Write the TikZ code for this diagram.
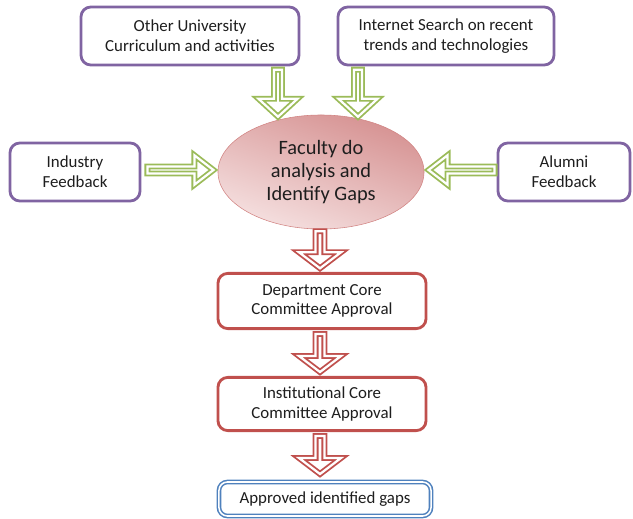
\documentclass[tikz,border=0pt]{standalone}
\usepackage{fontspec}
\setmainfont{Carlito}
\usetikzlibrary{shapes.geometric}
\usetikzlibrary{positioning}
\usetikzlibrary{calc}
\definecolor{mpurple}{RGB}{128,100,162}
\definecolor{mgreen}{RGB}{155,187,89}
\definecolor{mred}{RGB}{192,80,77}
\definecolor{mblue}{RGB}{79,129,189}
\definecolor{mpink}{RGB}{214,146,146}
\definecolor{mlightpink}{RGB}{245,224,224}
\definecolor{mtext}{RGB}{30,30,30}

\tikzset{
  srcbox/.style={draw=mpurple, line width=2pt, rounded corners=7pt, fill=white,
    align=center, text=mtext, font=\fontsize{12}{14}\selectfont},
  stepbox/.style={draw=mred, line width=2pt, rounded corners=7pt, fill=white,
    align=center, text=mtext, font=\fontsize{12}{14}\selectfont,
    minimum width=5.2cm},
  gapbox/.style={draw=mblue, double=white, double distance=1.1pt, line width=1.1pt,
    rounded corners=6pt, fill=white, align=center, text=mtext,
    font=\fontsize{12}{14}\selectfont},
  hollowarrow/.style={fill=white, double=white, double distance=1.6pt, line width=1.3pt},
  greenarrow/.style={hollowarrow, draw=mgreen},
  redarrow/.style={hollowarrow, draw=mred},
  % length, half shaft, half head, head length
  pics/blockarrow/.style n args={4}{code={
    \draw [pic actions] (0,-#2) -- (#1-#4,-#2) -- (#1-#4,-#3) -- (#1,0)
      -- (#1-#4,#3) -- (#1-#4,#2) -- (0,#2) -- cycle;
  }}
}

\begin{document}
\begin{tikzpicture}[x=0.025cm, y=-0.025cm]
    \useasboundingbox (0,0) rectangle (633,519);

    % centre of the diagram
    \node [ellipse, draw=mpink!80!mred, line width=0.4pt, top color=mpink, bottom color=mlightpink,
      shading angle=-20, minimum width=5.15cm, minimum height=2.85cm, align=center, text=mtext,
      font=\fontsize{14.5}{16.5}\selectfont] (faculty) at (321,172) {Faculty do\\analysis and\\Identify Gaps};

    % inputs
    \node [srcbox, minimum width=5.45cm, minimum height=1.45cm] (other) at (190,36) {Other University\\Curriculum and activities};
    \node [srcbox, minimum width=5.4cm, minimum height=1.45cm] (internet) at (446,36) {Internet Search on recent\\trends and technologies};
    \node [srcbox, minimum width=3.25cm, minimum height=1.45cm] (industry) at (75,172) {Industry\\Feedback};
    \node [srcbox, minimum width=3.3cm, minimum height=1.45cm] (alumni) at (564,172) {Alumni\\Feedback};

    % approval chain
    \node [stepbox, minimum height=1.38cm] (dept) at (322,301) {Department Core\\Committee Approval};
    \node [stepbox, minimum height=1.33cm] (inst) at (322,404) {Institutional Core\\Committee Approval};
    \node [gapbox, minimum width=5.3cm, minimum height=0.85cm] (approved) at (325,499) {Approved identified gaps};

    % green arrows into the faculty
    \pic [greenarrow, rotate=-90] at ($(faculty.north)+(-43,-45)$) {blockarrow={47}{4}{19.6}{18}};
    \pic [greenarrow, rotate=-90] at ($(faculty.north)+(37,-45)$) {blockarrow={47}{4}{19.6}{18}};
    \pic [greenarrow] at ($(industry.east)+(6,-2)$) {blockarrow={66}{3.5}{14.7}{19}};
    \pic [greenarrow, rotate=180] at ($(alumni.west)+(-2,-2)$) {blockarrow={66}{3.5}{14.7}{19}};

    % red arrows down the chain
    \pic [redarrow, rotate=-90] at ($(faculty.south)+(-1,2)$) {blockarrow={37}{4.4}{21}{16}};
    \pic [redarrow, rotate=-90] at ($(dept.south)+(-2,4)$) {blockarrow={38}{4.4}{21}{16}};
    \pic [redarrow, rotate=-90] at ($(inst.south)+(-2,4)$) {blockarrow={38}{4.4}{21}{16}};
  \end{tikzpicture}
\end{document}
